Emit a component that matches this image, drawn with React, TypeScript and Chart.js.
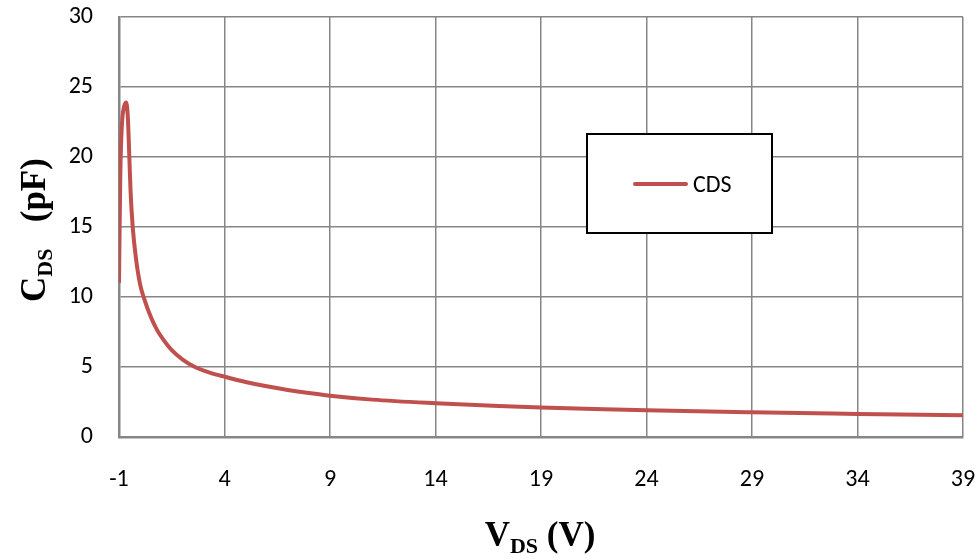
import React, { useEffect, useRef } from "react";
import { Chart, registerables } from "chart.js";

Chart.register(...registerables);

const vds: number[] = [
  -1, -0.97, -0.94, -0.9, -0.84, -0.76, -0.66, -0.58, -0.51, -0.45, -0.35, -0.2,
  0, 0.2, 0.5, 0.8, 1.1, 1.5, 2, 2.6, 3.3, 4, 5, 6, 7, 8, 9, 11, 14, 17, 19, 22,
  24, 27, 29, 32, 34, 37, 39,
];
const cds: number[] = [
  11.0, 15, 18.5, 21, 22.8, 23.6, 23.9, 22.8, 20, 17.5, 15, 12.8,
  10.9, 9.85, 8.6, 7.65, 6.95, 6.2, 5.55, 5.0, 4.6, 4.31, 3.93, 3.62, 3.36, 3.14, 2.95, 2.67, 2.41, 2.21, 2.1, 1.98,
  1.91, 1.82, 1.77, 1.7, 1.65, 1.59, 1.55,
];
const xTickValues: number[] = [-1, 4, 9, 14, 19, 24, 29, 34, 39];
const yTickValues: number[] = [0, 5, 10, 15, 20, 25, 30];
const seriesLabel = "CDS";
const xTitle = ["V", "DS", " (V)"];
const yTitle = ["C", "DS", "   (pF)"];

const LINE_COLOR = "#C0504D";
const GRID_COLOR = "#868686";
const TICK_FONT = "Carlito, Lato, 'Open Sans', sans-serif";
const TITLE_FONT = "'Liberation Serif', 'DejaVu Serif', serif";

function drawSubTitle(ctx: CanvasRenderingContext2D, parts: string[], big: number, small: number) {
  const fb = `bold ${big}px ${TITLE_FONT}`;
  const fs = `bold ${small}px ${TITLE_FONT}`;
  ctx.font = fb;
  const w0 = ctx.measureText(parts[0]).width;
  const w2 = ctx.measureText(parts[2]).width;
  ctx.font = fs;
  const w1 = ctx.measureText(parts[1]).width;
  const total = w0 + w1 + w2;
  let x = -total / 2;
  ctx.textBaseline = "alphabetic";
  ctx.textAlign = "left";
  ctx.fillStyle = "#000";
  ctx.font = fb;
  ctx.fillText(parts[0], x, big * 0.35);
  x += w0;
  ctx.font = fs;
  ctx.fillText(parts[1], x, big * 0.35 + small * 0.3);
  x += w1;
  ctx.font = fb;
  ctx.fillText(parts[2], x, big * 0.35);
}

const decorPlugin = {
  id: "decor",
  afterDraw(chart: any) {
    const ctx: CanvasRenderingContext2D = chart.ctx;
    ctx.save();
    ctx.translate(33, 230);
    ctx.rotate(-Math.PI / 2);
    drawSubTitle(ctx, yTitle, 35, 22);
    ctx.restore();
    ctx.save();
    ctx.translate(540, 534);
    drawSubTitle(ctx, xTitle, 35, 22);
    ctx.restore();
    const bx = 587, by = 134, bw = 185, bh = 99;
    ctx.save();
    ctx.fillStyle = "#fff";
    ctx.fillRect(bx, by, bw, bh);
    ctx.strokeStyle = "#000";
    ctx.lineWidth = 2;
    ctx.strokeRect(bx, by, bw, bh);
    ctx.strokeStyle = LINE_COLOR;
    ctx.lineWidth = 4;
    ctx.lineCap = "round";
    ctx.beginPath();
    ctx.moveTo(635, 184);
    ctx.lineTo(686, 184);
    ctx.stroke();
    ctx.fillStyle = "#000";
    ctx.font = `24px ${TICK_FONT}`;
    ctx.textBaseline = "middle";
    ctx.textAlign = "left";
    ctx.fillText(seriesLabel, 693, 186);
    ctx.restore();
  },
};

function zeroPadding(scale: any) {
  scale.paddingTop = 0;
  scale.paddingBottom = 0;
  scale.paddingLeft = 0;
  scale.paddingRight = 0;
}

export default function App() {
  const ref = useRef<HTMLCanvasElement | null>(null);
  useEffect(() => {
    document.body.style.margin = "0";
    const canvas = ref.current;
    if (!canvas) return;
    const chart = new Chart(canvas, {
      type: "line",
      data: {
        datasets: [
          {
            label: seriesLabel,
            data: vds.map((v, i) => ({ x: v, y: cds[i] })),
            borderColor: LINE_COLOR,
            backgroundColor: LINE_COLOR,
            borderWidth: 4,
            pointRadius: 0,
            cubicInterpolationMode: "monotone",
            fill: false,
          },
        ],
      },
      options: {
        animation: false,
        responsive: false,
        maintainAspectRatio: false,
        layout: { padding: { left: 0, top: 17, right: 15, bottom: 0 } },
        plugins: { legend: { display: false }, tooltip: { enabled: false } },
        scales: {
          x: {
            type: "linear",
            min: -1,
            max: 39,
            afterBuildTicks: (scale: any) => {
              scale.ticks = xTickValues.map((v) => ({ value: v }));
            },
            afterFit: (scale: any) => {
              scale.height = 122;
              zeroPadding(scale);
            },
            grid: { color: GRID_COLOR, lineWidth: 1.5, drawTicks: false, tickLength: 0 },
            border: { color: GRID_COLOR, width: 2.5 },
            ticks: {
              color: "#000",
              font: { family: TICK_FONT, size: 24 },
              padding: 29,
              maxRotation: 0,
              autoSkip: false,
            },
          },
          y: {
            type: "linear",
            min: 0,
            max: 30,
            afterBuildTicks: (scale: any) => {
              scale.ticks = yTickValues.map((v) => ({ value: v }));
            },
            afterFit: (scale: any) => {
              scale.width = 119;
              zeroPadding(scale);
            },
            grid: { color: GRID_COLOR, lineWidth: 1.5, drawTicks: false, tickLength: 0 },
            border: { color: GRID_COLOR, width: 2.5 },
            ticks: {
              color: "#000",
              font: { family: TICK_FONT, size: 24 },
              padding: 26,
            },
          },
        },
      },
      plugins: [decorPlugin],
    } as any);
    return () => chart.destroy();
  }, []);
  return (
    <div style={{ position: "relative", width: 978, height: 559 }}>
      <canvas ref={ref} width={978} height={559} style={{ width: 978, height: 559, display: "block" }} />
    </div>
  );
}
